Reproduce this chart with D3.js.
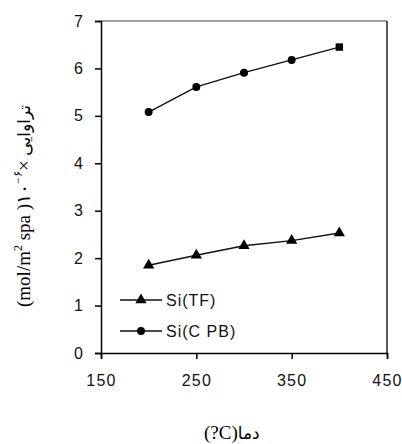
<!DOCTYPE html>
<html>
<head>
<meta charset="utf-8">
<script src="https://cdn.jsdelivr.net/npm/d3@7/dist/d3.min.js"></script>
<style>
  html, body { margin: 0; padding: 0; background: #fff; }
  svg { display: block; }
  .serif { font-family: "Liberation Serif", "Times New Roman", serif; font-weight: 400; }
  .fa { font-family: "DejaVu Sans", sans-serif; font-weight: 400; }
</style>
</head>
<body>
<svg id="chart" width="402" height="444"></svg>
<script>
// Temperature (°C) and permeance values for the two membranes
const temps = [200, 250, 300, 350, 400];
const siTF  = [1.85, 2.06, 2.26, 2.37, 2.53];
const siCPB = [5.08, 5.61, 5.91, 6.18, 6.45];
const xTicks = [150, 250, 350, 450];
const yTicks = [0, 1, 2, 3, 4, 5, 6, 7];
const seriesNames = ["Si(TF)", "Si(C PB)"];

const svg = d3.select("#chart");
const margin = { left: 101, right: 15, top: 21, bottom: 91 };
const W = 402, H = 444;

const x = d3.scaleLinear().domain([150, 450]).range([margin.left, W - margin.right]);
const y = d3.scaleLinear().domain([0, 7]).range([H - margin.bottom, margin.top]);

const tickFont = "'Liberation Sans', Arial, sans-serif";

// plot-area frame (top and right edges)
svg.append("line")
  .attr("x1", x(150)).attr("x2", x(450))
  .attr("y1", y(7)).attr("y2", y(7))
  .attr("stroke", "#808080").attr("stroke-width", 1.5);
svg.append("line")
  .attr("x1", x(450)).attr("x2", x(450))
  .attr("y1", y(7)).attr("y2", y(0))
  .attr("stroke", "#222").attr("stroke-width", 1.5);

// axes
const xAxis = svg.append("g")
  .attr("transform", `translate(0,${y(0)})`)
  .call(d3.axisBottom(x).tickValues(xTicks).tickSize(6).tickPadding(16).tickFormat(d3.format("d")));
const yAxis = svg.append("g")
  .attr("transform", `translate(${x(150)},0)`)
  .call(d3.axisLeft(y).tickValues(yTicks).tickSize(6).tickPadding(11).tickFormat(d3.format("d")));

[xAxis, yAxis].forEach(g => {
  g.select(".domain").attr("stroke", "#000").attr("stroke-width", 1.5);
  g.selectAll(".tick line").attr("stroke", "#000").attr("stroke-width", 1.5);
  g.selectAll(".tick text")
    .attr("fill", "#111")
    .style("font-family", tickFont)
    .style("font-size", "16px")
    .style("letter-spacing", "1.2px");
});

// series: straight segments between measured points
const tfData = temps.map((t, i) => ({ t, v: siTF[i] }));
const cpbData = temps.map((t, i) => ({ t, v: siCPB[i] }));
const line = d3.line().x(d => x(d.t)).y(d => y(d.v));

[tfData, cpbData].forEach(data => {
  svg.append("path")
    .datum(data)
    .attr("d", line)
    .attr("fill", "none")
    .attr("stroke", "#111")
    .attr("stroke-width", 1.4);
});

const tri = d3.symbol().type(d3.symbolTriangle).size(55);
const dot = d3.symbol().type(d3.symbolCircle).size(50);
const sq = d3.symbol().type(d3.symbolSquare).size(55);

svg.append("g").selectAll("path").data(tfData).join("path")
  .attr("d", tri)
  .attr("transform", d => `translate(${x(d.t)},${y(d.v)})`)
  .attr("fill", "#000");

svg.append("g").selectAll("path").data(cpbData).join("path")
  .attr("d", (d, i) => (i === cpbData.length - 1 ? sq() : dot()))
  .attr("transform", d => `translate(${x(d.t)},${y(d.v)})`)
  .attr("fill", "#000");

// legend
const legend = svg.append("g");
const legendRows = [
  { name: seriesNames[0], sym: tri, yPos: 300 },
  { name: seriesNames[1], sym: dot, yPos: 331 }
];
legendRows.forEach(r => {
  legend.append("line")
    .attr("x1", 120).attr("x2", 162)
    .attr("y1", r.yPos).attr("y2", r.yPos)
    .attr("stroke", "#111").attr("stroke-width", 1.4);
  legend.append("path")
    .attr("d", r.sym)
    .attr("transform", `translate(141,${r.yPos})`)
    .attr("fill", "#000");
  legend.append("text")
    .attr("x", 166).attr("y", r.yPos + 6)
    .style("font-family", tickFont)
    .style("font-size", "16px")
    .style("letter-spacing", "1px")
    .attr("fill", "#111")
    .text(r.name);
});

// x-axis title
const xt = svg.append("text")
  .attr("x", 204).attr("y", 439)
  .attr("direction", "ltr")
  .attr("fill", "#000");
xt.append("tspan").attr("class", "serif").style("font-size", "19px").text("(?C)");
xt.append("tspan").attr("class", "fa").style("font-size", "17px").text("\u062F\u0645\u0627");

// y-axis title (rotated, reads bottom to top)
const yt = svg.append("text")
  .attr("transform", "translate(30,307) rotate(-90)")
  .attr("direction", "ltr")
  .attr("fill", "#000");
yt.append("tspan").attr("class", "serif").style("font-size", "19px").text("(mol/m");
yt.append("tspan").attr("class", "serif").attr("dy", -8).style("font-size", "12px").text("2");
yt.append("tspan").attr("class", "serif").attr("dy", 8).style("font-size", "19px").text(" spa )\u06F1\u06F0");
yt.append("tspan").attr("class", "serif").attr("dy", -8).style("font-size", "12px").text("\u2212\u06F6");
yt.append("tspan").attr("class", "serif").attr("dy", 8).style("font-size", "19px").text("\u00D7 ");
yt.append("tspan").attr("class", "fa").style("font-size", "17px")
  .text("\u062A\u0631\u0627\u0648\u0627\u06CC\u06CC");
</script>
</body>
</html>
